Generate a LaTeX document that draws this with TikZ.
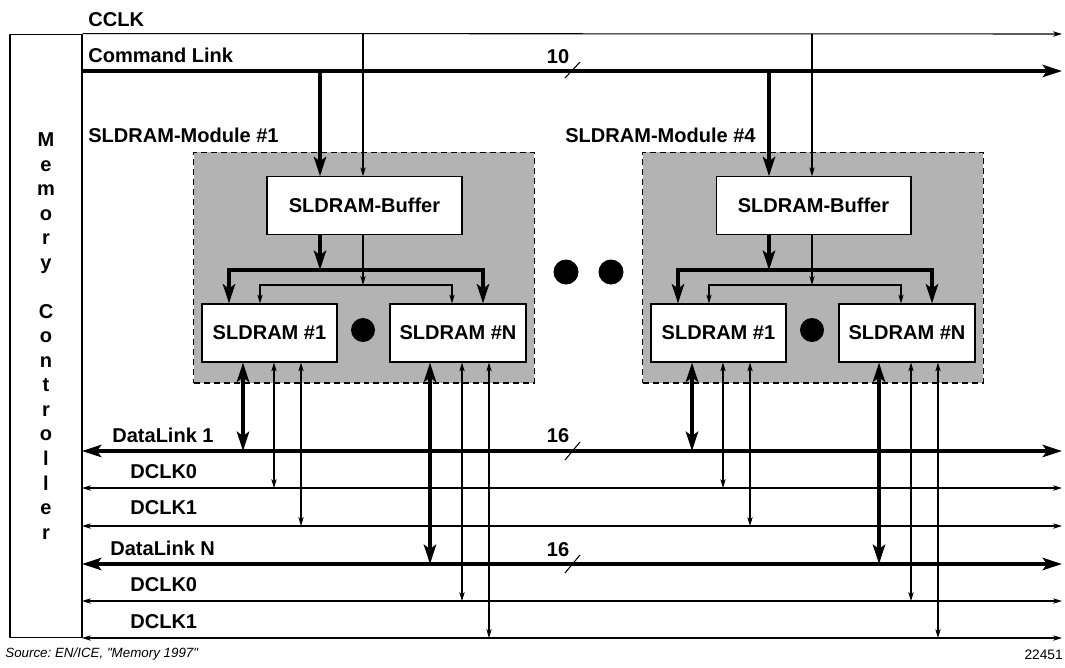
\documentclass[tikz,border=0pt]{standalone}
\usepackage{fontspec}
\setmainfont{Liberation Sans}
\newfontfamily\srcfont{Liberation Sans}
\usetikzlibrary{arrows.meta}
\frenchspacing

\definecolor{modgray}{RGB}{179,179,179}

\tikzset{
  bigtip/.tip={Stealth[length=11pt,width=7pt,inset=2.5pt]},
  smalltip/.tip={Stealth[length=5pt,width=3pt,inset=1.2pt]},
  bus/.style={line width=2pt},
  wire/.style={line width=0.6pt},
  lbl/.style={font=\fontsize{11.4}{13.95}\selectfont\bfseries, inner sep=0pt},
  modbox/.style={draw, wire, dash pattern=on 0.12cm off 0.08cm, fill=modgray,
    minimum width=6.82cm, minimum height=4.62cm, inner sep=0pt},
  chipbox/.style={draw, wire, fill=white, lbl, minimum height=1.16cm},
  blob/.style={circle, fill=black, inner sep=0pt},
}

\begin{document}
\begin{tikzpicture}[x=0.02cm, y=-0.02cm]
  \useasboundingbox (0,0) rectangle (1065,667);

  % memory controller
  \node[draw, wire, minimum width=1.44cm, minimum height=12.08cm, inner sep=0pt] (mc) at (46,336) {};
  \node[lbl, align=center] (mctext) at (46,336) {M\\e\\m\\o\\r\\y\\[0.492cm]C\\o\\n\\t\\r\\o\\l\\l\\e\\r};

  % command link and clock
  \coordinate (cclkR) at (1062,34);
  \coordinate (cmdL) at (82,71);
  \coordinate (cmdR) at (1062,71);
  \draw[wire, -smalltip] (mc.north east) -- (cclkR);
  \draw[bus, -bigtip] (cmdL) -- (cmdR);
  \node[lbl, anchor=west] (cclk) at (88,20) {CCLK};
  \node[lbl, anchor=west] (cmdlbl) at (88,55) {Command Link};
  \node[lbl] (w10) at (558,57) {10};
  \coordinate (cut10) at (572,71);
  \draw[wire] ([shift={(-7,7)}]cut10) -- ([shift={(8,-9)}]cut10);

  % data links
  \coordinate (dl1L) at (82,451);  \coordinate (dl1R) at (1062,451);
  \coordinate (k10L) at (82,488);  \coordinate (k10R) at (1062,488);
  \coordinate (k11L) at (82,526);  \coordinate (k11R) at (1062,526);
  \coordinate (dlnL) at (82,564);  \coordinate (dlnR) at (1062,564);
  \coordinate (kn0L) at (82,601);  \coordinate (kn0R) at (1062,601);
  \coordinate (kn1L) at (82,638);  \coordinate (kn1R) at (1062,638);
  \draw[bus, bigtip-bigtip] (dl1L) -- (dl1R);
  \draw[wire, smalltip-smalltip] (k10L) -- (k10R);
  \draw[wire, smalltip-smalltip] (k11L) -- (k11R);
  \draw[bus, bigtip-bigtip] (dlnL) -- (dlnR);
  \draw[wire, smalltip-smalltip] (kn0L) -- (kn0R);
  \draw[wire, smalltip-smalltip] (kn1L) -- (kn1R);

  \node[lbl, anchor=west] (dl1lbl) at (112,435) {DataLink 1};
  \node[lbl, anchor=west] (k10lbl) at (130,472) {DCLK0};
  \node[lbl, anchor=west] (k11lbl) at (130,508) {DCLK1};
  \node[lbl, anchor=west] (dlnlbl) at (110,548) {DataLink N};
  \node[lbl, anchor=west] (kn0lbl) at (130,585) {DCLK0};
  \node[lbl, anchor=west] (kn1lbl) at (130,622) {DCLK1};

  \node[lbl] (w16a) at (558,436) {16};
  \coordinate (cut16a) at (572,451);
  \draw[wire] ([shift={(-7,9)}]cut16a) -- ([shift={(8,-9)}]cut16a);
  \node[lbl] (w16b) at (558,550) {16};
  \coordinate (cut16b) at (572,564);
  \draw[wire] ([shift={(-7,9)}]cut16b) -- ([shift={(8,-9)}]cut16b);

  % module 1
  \node[lbl, anchor=west] (mod1lbl) at (88,135) {SLDRAM-Module \#1};
  \node[modbox] (mod1) at (364,267.5) {};
  \node[chipbox, minimum width=3.9cm, minimum height=1.15cm] (buf1) at (364.5,205.5) {SLDRAM-Buffer};
  \node[chipbox, minimum width=2.7cm] (m1c1) at (269.5,333) {SLDRAM \#1};
  \node[chipbox, minimum width=2.72cm] (m1cn) at (458,333) {SLDRAM \#N};
  \node[blob, minimum size=0.48cm] (m1dot) at (363,330) {};

  \coordinate (m1cmd) at (320,71);
  \coordinate (m1clk) at (363,34);
  \draw[bus, -bigtip] (m1cmd) -- (m1cmd |- buf1.north);
  \draw[wire, -smalltip] (m1clk) -- (m1clk |- buf1.north);

  \coordinate (m1bl) at (229,270); \coordinate (m1bm) at (320,270); \coordinate (m1br) at (483,270);
  \coordinate (m1tl) at (260,285); \coordinate (m1tm) at (363,285); \coordinate (m1tr) at (452,285);
  \draw[bus, -bigtip] (m1bm |- buf1.south) -- (m1bm);
  \draw[bus, bigtip-bigtip] (m1bl |- m1c1.north) -- (m1bl) -- (m1br) -- (m1br |- m1cn.north);
  \draw[wire, -smalltip] (m1tm |- buf1.south) -- (m1tm);
  \draw[wire, smalltip-smalltip] (m1tl |- m1c1.north) -- (m1tl) -- (m1tr) -- (m1tr |- m1cn.north);

  \coordinate (m1d1) at (243,451); \coordinate (m1k10) at (274,488); \coordinate (m1k11) at (301,526);
  \coordinate (m1dn) at (430,564); \coordinate (m1kn0) at (462,601); \coordinate (m1kn1) at (489,638);
  \draw[bus, bigtip-bigtip] (m1d1 |- m1c1.south) -- (m1d1);
  \draw[wire, smalltip-smalltip] (m1k10 |- m1c1.south) -- (m1k10);
  \draw[wire, smalltip-smalltip] (m1k11 |- m1c1.south) -- (m1k11);
  \draw[bus, bigtip-bigtip] (m1dn |- m1cn.south) -- (m1dn);
  \draw[wire, smalltip-smalltip] (m1kn0 |- m1cn.south) -- (m1kn0);
  \draw[wire, smalltip-smalltip] (m1kn1 |- m1cn.south) -- (m1kn1);

  % dots between the modules
  \node[blob, minimum size=0.5cm] (gap1) at (566,272) {};
  \node[blob, minimum size=0.5cm] (gap2) at (611,272) {};

  % module 4
  \node[lbl, anchor=west] (mod4lbl) at (565,135) {SLDRAM-Module \#4};
  \node[modbox] (mod4) at (813,267.5) {};
  \node[chipbox, minimum width=3.9cm, minimum height=1.15cm] (buf4) at (813.5,205.5) {SLDRAM-Buffer};
  \node[chipbox, minimum width=2.7cm] (m4c1) at (718.5,333) {SLDRAM \#1};
  \node[chipbox, minimum width=2.72cm] (m4cn) at (907,333) {SLDRAM \#N};
  \node[blob, minimum size=0.48cm] (m4dot) at (812,330) {};

  \coordinate (m4cmd) at (769,71);
  \coordinate (m4clk) at (812,34);
  \draw[bus, -bigtip] (m4cmd) -- (m4cmd |- buf4.north);
  \draw[wire, -smalltip] (m4clk) -- (m4clk |- buf4.north);

  \coordinate (m4bl) at (678,270); \coordinate (m4bm) at (769,270); \coordinate (m4br) at (932,270);
  \coordinate (m4tl) at (709,285); \coordinate (m4tm) at (812,285); \coordinate (m4tr) at (901,285);
  \draw[bus, -bigtip] (m4bm |- buf4.south) -- (m4bm);
  \draw[bus, bigtip-bigtip] (m4bl |- m4c1.north) -- (m4bl) -- (m4br) -- (m4br |- m4cn.north);
  \draw[wire, -smalltip] (m4tm |- buf4.south) -- (m4tm);
  \draw[wire, smalltip-smalltip] (m4tl |- m4c1.north) -- (m4tl) -- (m4tr) -- (m4tr |- m4cn.north);

  \coordinate (m4d1) at (692,451); \coordinate (m4k10) at (723,488); \coordinate (m4k11) at (750,526);
  \coordinate (m4dn) at (879,564); \coordinate (m4kn0) at (911,601); \coordinate (m4kn1) at (938,638);
  \draw[bus, bigtip-bigtip] (m4d1 |- m4c1.south) -- (m4d1);
  \draw[wire, smalltip-smalltip] (m4k10 |- m4c1.south) -- (m4k10);
  \draw[wire, smalltip-smalltip] (m4k11 |- m4c1.south) -- (m4k11);
  \draw[bus, bigtip-bigtip] (m4dn |- m4cn.south) -- (m4dn);
  \draw[wire, smalltip-smalltip] (m4kn0 |- m4cn.south) -- (m4kn0);
  \draw[wire, smalltip-smalltip] (m4kn1 |- m4cn.south) -- (m4kn1);

  % source line
  \node[anchor=west, inner sep=0pt, font=\srcfont\fontsize{7.6}{9}\selectfont\itshape] (src) at (5,654) {Source: EN/ICE, "Memory 1997"};
  \node[anchor=east, inner sep=0pt, font=\fontsize{7.8}{9}\selectfont] (fignum) at (1063,655) {22451};
\end{tikzpicture}
\end{document}
